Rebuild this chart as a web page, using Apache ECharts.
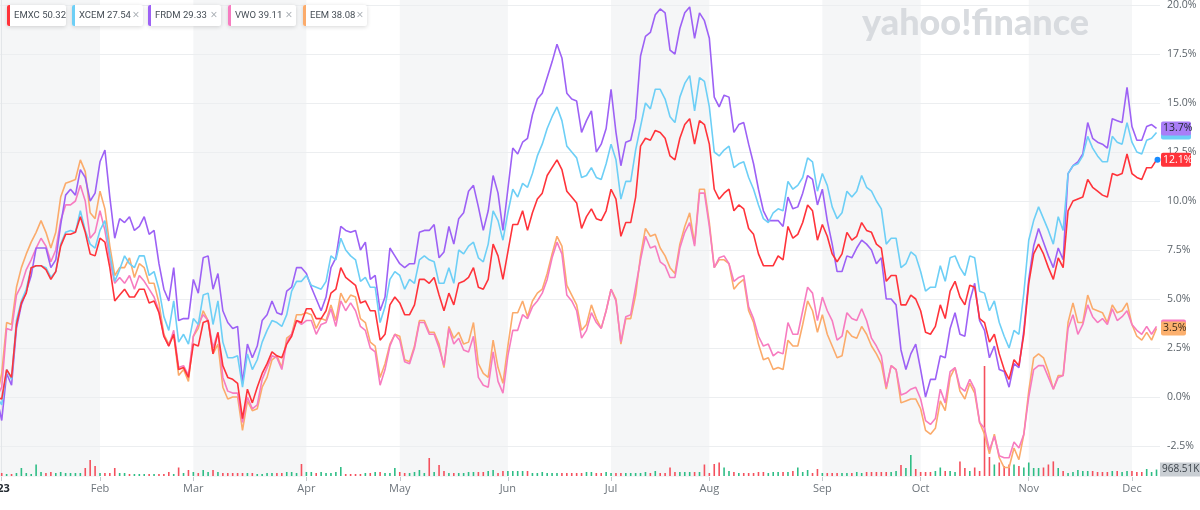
<!DOCTYPE html>
<html><head><meta charset="utf-8">
<script src="https://cdn.jsdelivr.net/npm/echarts@6/dist/echarts.min.js"></script>
<style>html,body{margin:0;padding:0;background:#fff}#c{width:1200px;height:510px}</style>
</head><body><div id="c"></div>
<script>
// trading-day index of each month's first session (index 0 = 3 Jan 2023)
const monthStart = [0,20,39,62,81,103,124,144,167,187,209,230];
const monthNames = ['2023','Feb','Mar','Apr','May','Jun','Jul','Aug','Sep','Oct','Nov','Dec'];

// % change, first value = base day (index -1), then one value per trading day
const frdm = [0,
-1.2,1.2,0.6,3.5,4.7,5.4,6.2,7.6,7.6,7.6,
6.6,7.0,8.8,10.3,10.6,10.3,11.6,11.2,10.0,10.4,
12.0,12.6,10.2,8.1,9.1,8.9,9.2,8.5,8.7,9.2,
8.3,8.5,6.8,5.5,4.9,6.6,3.9,4.0,4.0,6.0,
5.3,7.1,7.2,5.5,6.3,4.4,3.8,3.5,3.6,0.7,
2.7,2.0,2.6,3.9,4.2,4.9,4.3,4.2,5.4,5.6,
6.6,6.6,6.3,5.6,5.0,4.4,5.1,6.6,7.1,8.7,
8.5,8.4,8.5,7.5,7.9,6.0,6.2,4.4,5.1,7.6,
7.2,6.8,6.6,6.8,6.8,8.4,8.5,8.5,8.8,7.1,
7.4,8.7,7.8,9.1,9.4,10.5,10.8,9.7,8.5,9.5,
11.3,10.4,8.5,10.6,12.7,12.4,13.0,13.2,14.4,15.2,
15.5,16.3,17.1,18.0,17.3,15.5,15.2,15.1,13.5,14.1,
14.6,12.5,12.9,13.7,15.7,13.5,11.8,13.0,13.1,14.2,
17.4,18.4,18.6,19.5,19.8,19.6,17.7,17.5,18.8,19.6,
19.9,18.3,19.6,19.2,18.3,15.3,14.8,15.4,15.3,13.5,
13.9,14.0,12.9,11.9,10.6,9.5,9.0,9.0,9.0,8.7,
10.2,9.6,9.7,10.4,11.3,11.1,9.8,10.6,9.0,7.8,
6.4,6.4,7.2,7.1,7.6,8.0,7.8,7.5,6.8,7.1,
5.0,5.0,4.7,2.4,1.4,2.2,2.7,1.4,0.0,0.9,
0.9,2.1,2.0,3.5,4.3,3.2,3.1,4.9,5.8,3.9,
3.4,2.0,2.6,1.4,1.3,0.5,1.7,1.5,3.4,6.0,
7.7,8.6,7.9,7.2,6.6,7.6,7.0,11.4,11.8,12.0,
12.4,14.0,13.2,13.0,12.9,12.7,14.2,14.1,14.0,15.8,
13.8,13.1,13.1,13.8,13.9,13.7];

const xcem = [0,
-0.4,1.4,0.9,3.9,4.9,5.5,6.6,6.7,6.7,6.6,
6.1,6.4,7.8,8.4,8.5,8.4,9.5,8.5,7.8,7.6,
8.5,9.0,7.3,5.9,6.5,7.2,6.8,6.6,7.2,7.2,
6.2,6.4,5.5,4.1,3.4,4.9,2.8,3.2,2.7,4.0,
3.7,5.2,5.3,3.7,4.9,2.8,2.0,2.0,2.1,0.5,
2.2,1.4,1.9,2.8,3.4,3.9,3.8,3.6,4.2,5.4,
5.9,5.9,6.2,5.7,5.6,5.5,5.9,7.2,7.0,8.1,
7.5,7.2,7.0,5.9,6.1,5.6,5.6,3.8,4.6,6.0,
6.4,6.2,5.5,6.0,5.8,7.0,7.2,7.0,6.9,5.8,
5.8,6.6,5.8,7.5,7.3,7.7,7.9,7.1,6.9,7.8,
9.5,9.0,8.0,9.4,10.6,10.2,10.9,10.7,11.4,12.3,
12.9,13.7,14.3,14.8,14.1,12.8,12.5,12.2,11.2,11.3,
11.7,11.2,11.1,11.9,12.9,12.1,10.1,11.0,11.0,12.6,
13.8,15.0,14.7,15.7,15.7,15.2,14.3,14.0,15.3,16.0,
16.4,14.6,16.3,16.1,14.8,12.5,12.3,12.6,12.8,11.7,
11.9,12.0,11.2,10.6,9.8,9.1,8.9,9.4,9.6,9.5,
11.0,10.6,10.8,11.2,12.2,12.0,10.5,11.4,10.8,9.7,
9.1,9.4,10.5,10.2,10.5,11.3,10.7,10.5,10.0,9.6,
7.8,8.1,8.1,6.6,6.8,7.4,7.2,6.4,5.4,5.6,
5.6,6.7,5.9,7.1,7.2,6.6,6.2,7.2,7.1,5.4,
5.3,4.4,4.9,3.8,3.1,2.5,3.4,3.2,5.3,8.0,
9.0,9.7,9.1,8.5,7.8,9.2,8.5,11.4,11.8,11.9,
12.3,13.3,12.7,12.3,12.0,12.0,13.3,13.0,12.9,14.0,
13.0,12.5,12.4,13.1,13.2,13.5];

const emxc = [0,
-0.1,1.4,1.0,3.7,4.8,5.3,6.6,6.7,6.7,6.5,
6.0,6.4,7.7,8.3,8.3,8.4,9.2,8.4,7.3,7.2,
8.1,7.9,6.6,4.9,5.2,5.5,5.1,5.1,5.5,5.5,
4.8,4.9,4.3,3.1,2.6,3.2,1.4,1.5,1.0,2.7,
2.6,3.8,3.9,2.2,3.3,1.6,1.0,0.9,0.7,-1.1,
0.4,-0.3,0.5,1.2,1.7,2.3,2.1,2.0,2.7,3.1,
3.9,3.8,4.5,4.5,4.0,4.0,4.4,5.3,5.5,6.6,
6.1,5.9,5.7,4.8,4.9,4.4,4.4,2.9,3.2,4.7,
5.1,4.8,4.2,4.2,4.7,6.0,6.0,5.8,6.1,5.2,
4.4,5.3,4.7,5.8,5.9,6.1,6.6,5.6,5.5,6.0,
7.8,7.2,6.0,7.4,8.8,8.8,9.5,8.5,9.4,10.1,
10.4,11.3,11.7,12.1,11.6,10.5,10.2,9.9,8.6,9.2,
9.6,9.1,9.0,9.5,10.6,10.1,8.2,8.9,8.9,10.2,
12.8,13.2,13.1,13.6,13.5,13.2,12.3,12.1,13.2,13.9,
14.2,12.9,14.1,13.9,12.9,10.6,10.1,10.4,10.6,9.5,
9.8,9.6,8.6,8.3,7.3,6.7,6.7,6.7,7.2,7.0,
8.7,8.1,8.3,8.9,9.8,9.5,8.0,8.8,8.2,7.3,
6.9,7.3,8.4,8.0,8.2,8.9,8.5,8.4,7.8,7.6,
5.9,6.2,6.2,4.7,4.7,5.2,5.0,4.4,3.3,3.2,
3.6,4.7,4.0,5.4,5.9,5.1,4.7,5.7,5.6,4.0,
3.8,2.8,3.2,2.2,1.4,0.9,1.9,1.6,3.2,5.8,
7.3,7.8,7.3,6.6,6.0,7.1,6.6,9.5,10.0,10.1,
10.2,11.1,10.7,10.5,10.3,10.2,11.4,11.3,11.4,12.4,
11.4,11.2,11.1,11.7,11.7,12.1];

const vwo = [0,
0.5,3.5,3.4,5.2,5.7,6.5,7.0,7.6,8.1,7.7,
6.9,7.5,9.0,9.8,9.8,10.0,10.8,10.0,8.1,8.4,
9.5,8.5,7.0,5.8,6.1,5.8,6.2,5.5,6.2,5.9,
5.5,5.1,4.4,3.1,2.6,3.4,1.5,1.6,1.1,3.1,
3.7,4.2,3.9,2.5,3.3,1.0,0.3,0.2,0.2,-1.3,
0.0,-0.6,-0.4,0.9,1.5,2.1,2.0,1.4,2.8,3.2,
3.9,3.7,3.9,3.9,3.2,3.7,3.8,4.5,3.6,4.9,
4.4,4.8,4.4,3.6,3.4,2.5,2.3,0.6,1.4,2.6,
3.2,2.9,1.8,1.7,2.5,3.8,3.8,3.2,3.2,2.5,
1.6,3.5,2.7,3.0,2.4,2.3,3.1,1.0,0.6,0.5,
2.3,0.8,0.2,2.1,3.4,3.4,4.2,4.0,4.6,4.9,
5.3,6.0,7.1,7.9,7.3,5.2,4.9,4.4,3.0,3.4,
4.3,3.8,3.5,4.4,5.5,4.9,2.8,4.1,4.2,5.6,
7.0,8.2,7.6,7.7,6.9,6.7,6.1,6.1,7.6,8.4,
8.9,7.7,10.4,10.4,8.7,6.6,7.1,7.2,6.8,5.9,
6.1,6.2,4.6,4.0,3.1,2.6,2.7,2.1,2.3,2.2,
3.8,3.2,3.2,4.4,5.6,5.3,3.9,5.1,4.4,3.9,
2.9,3.1,4.3,4.0,3.9,4.5,3.9,3.0,2.6,2.1,
0.5,1.6,1.4,0.1,0.2,0.4,0.5,-0.1,-1.2,-1.4,
-1.1,0.4,-0.3,1.3,1.5,0.5,0.3,0.9,0.4,-1.3,
-1.6,-2.7,-2.0,-3.0,-3.1,-3.1,-2.3,-2.6,-1.9,0.0,
1.4,1.6,1.6,1.0,0.4,1.0,1.1,3.5,4.2,3.2,
3.7,4.7,4.1,3.8,4.0,3.7,4.5,3.9,4.1,4.4,
3.7,3.4,3.2,3.6,3.2,3.6];

const eem = [0,
1.2,3.8,3.7,5.6,6.6,7.3,7.9,8.4,9.0,8.4,
7.6,8.4,10.2,10.9,11.0,11.1,12.1,11.5,9.4,9.1,
10.5,9.6,7.7,6.2,6.6,6.6,7.1,6.1,6.8,6.6,
5.8,5.8,4.8,3.2,2.7,3.2,1.1,1.4,0.8,3.1,
3.5,4.4,3.9,2.2,2.7,0.5,-0.1,0.0,0.0,-1.7,
-0.2,-0.7,-0.6,0.5,1.0,1.9,2.1,1.5,3.0,3.2,
4.2,4.2,4.3,4.2,3.5,4.0,3.9,4.7,3.9,5.3,
4.8,5.2,5.1,4.0,3.8,2.8,2.6,1.0,1.7,2.7,
3.2,3.1,1.9,1.8,2.6,3.9,3.9,3.3,3.3,2.7,
1.5,3.6,3.0,3.3,2.7,2.8,3.8,1.7,1.2,1.0,
2.9,1.5,0.7,2.6,4.3,4.3,4.9,4.1,4.9,5.3,
5.5,6.3,7.3,8.2,7.7,5.7,5.2,4.7,3.4,3.7,
4.7,4.0,3.5,4.4,5.5,5.0,2.7,4.0,4.0,5.2,
7.2,8.6,8.2,8.3,7.6,7.2,6.6,6.3,7.8,8.7,
9.4,7.8,10.6,10.6,8.9,6.6,7.0,7.0,6.8,5.5,
5.8,6.0,4.4,3.8,2.7,1.9,2.0,1.4,1.5,1.4,
2.9,2.6,2.6,3.7,4.9,4.4,3.3,4.2,3.2,2.6,
2.0,2.1,3.4,3.1,3.0,3.6,3.2,2.6,2.2,1.7,
0.4,1.6,1.4,-0.3,-0.2,-0.1,-0.1,-0.6,-1.7,-1.9,
-1.6,-0.2,-0.7,1.0,1.5,0.3,-0.1,0.7,0.2,-1.3,
-1.9,-2.9,-1.9,-3.1,-3.6,-3.6,-2.6,-3.2,-1.9,0.3,
2.0,2.2,2.0,1.3,0.4,1.1,1.1,3.8,4.8,3.8,
3.8,5.2,4.5,4.4,4.3,3.8,4.7,4.3,4.4,4.8,
3.7,3.1,2.9,3.3,2.9,3.5];

// EMXC daily volume, thousands of shares (index 0 = 3 Jan)
const volume = [
450,300,300,450,1200,450,300,1725,600,450,
600,450,600,450,450,450,450,1200,2400,1500,
450,450,450,1200,450,450,300,300,300,300,
300,300,300,300,600,300,1275,450,900,600,
450,900,600,900,600,450,450,450,450,450,
450,450,300,300,450,450,450,450,600,600,
450,1800,600,600,450,600,450,450,600,1350,
300,300,300,300,450,450,600,600,450,450,
1200,600,450,450,600,900,450,2700,600,1650,
750,450,450,450,450,600,600,600,600,750,
900,450,750,750,750,750,750,750,450,450,
600,450,450,450,450,450,450,450,450,600,
600,450,450,600,450,450,450,450,450,450,
450,600,450,750,450,450,1275,600,600,600,
600,600,600,1725,450,1800,2025,1275,750,600,
450,450,450,450,600,600,450,600,600,600,
600,750,1275,600,900,450,1050,450,450,450,
450,450,450,450,600,450,600,600,600,600,
600,600,750,1650,1200,3150,1050,600,600,600,
750,1275,750,750,600,2190,1200,750,1275,750,
16500,2850,1725,2025,1500,1725,1725,1500,1275,2025,
1200,1200,1275,1725,2190,1200,750,450,600,900,
750,750,750,600,600,600,750,750,600,750,
750,600,600,1050,600,968.51];

const legendNames = ['EMXC','XCEM','FRDM','VWO','EEM'];
const legendPrices = ['50.32','27.54','29.33','39.11','38.08'];

const COL = {EMXC:'#ff333a', XCEM:'#6dcff6', FRDM:'#9d61f5', VWO:'#f77cc0', EEM:'#fbab6b'};
const X_MIN = -0.35, X_MAX = 235.71;
const FONT = 'Open Sans';

const chart = echarts.init(document.getElementById('c'));

const bands = [];
for (let k = 0; k < monthStart.length; k += 2) {
  bands.push([{xAxis: k === 0 ? X_MIN : monthStart[k]}, {xAxis: k + 1 < monthStart.length ? monthStart[k + 1] : X_MAX}]);
}

function lineSeries(name, arr) {
  return {
    name, type: 'line', xAxisIndex: 1, yAxisIndex: 1, clip: false,
    data: arr.map((v, i) => [i - 1, v]),
    showSymbol: false, symbol: 'none', z: 4,
    lineStyle: {color: COL[name], width: 1.6},
    itemStyle: {color: COL[name]}
  };
}

const gridBase = {left: 0, width: 1160, containLabel: false, outerBoundsMode: 'none'};

chart.setOption({
  animation: false,
  grid: [
    Object.assign({top: 0, height: 477}, gridBase),
    Object.assign({top: 5, height: 441}, gridBase),
    Object.assign({top: 326, height: 150}, gridBase)
  ],
  xAxis: [
    {gridIndex: 0, type: 'value', min: X_MIN, max: X_MAX,
     axisLine: {show: false}, splitLine: {show: false},
     axisTick: {show: true, customValues: monthStart, length: 4, lineStyle: {color: '#c4c9ce'}},
     axisLabel: {customValues: monthStart, margin: 6, fontSize: 11, fontFamily: FONT, color: '#6e757c',
       formatter: function (v) { const k = monthStart.indexOf(v); return k === 0 ? '{yr|' + monthNames[0] + '}' : (monthNames[k] || ''); },
       rich: {yr: {fontWeight: 'bold', color: '#232a31', fontSize: 11, fontFamily: FONT, padding: [0, 9, 0, 0]}}}},
    {gridIndex: 1, type: 'value', min: X_MIN, max: X_MAX, show: false},
    {gridIndex: 2, type: 'value', min: X_MIN, max: X_MAX, show: false}
  ],
  yAxis: [
    {gridIndex: 0, type: 'value', min: 0, max: 1, position: 'right',
     axisLine: {show: true, lineStyle: {color: '#e3e6e9'}}, axisTick: {show: false},
     axisLabel: {show: false}, splitLine: {show: false}},
    {gridIndex: 1, type: 'value', min: -2.5, max: 20, interval: 2.5, position: 'right',
     axisLine: {show: false}, axisTick: {show: false},
     axisLabel: {margin: 7, fontSize: 10.5, fontFamily: FONT, color: '#5b636a', formatter: v => v.toFixed(1) + '%'},
     splitLine: {lineStyle: {color: '#eceef0', width: 1}}},
    {gridIndex: 2, type: 'value', min: 0, max: 22500, show: false}
  ],
  series: [
    {type: 'line', xAxisIndex: 0, yAxisIndex: 0, data: [], silent: true, z: -5, zlevel: 0,
     markArea: {silent: true, z: -5, itemStyle: {color: '#f5f6f7'}, data: bands}},
    {name: 'Volume', type: 'bar', xAxisIndex: 2, yAxisIndex: 2, barWidth: 1.6, z: 2,
     data: volume.map((v, i) => [i, v]),
     itemStyle: {color: p => (emxc[p.dataIndex + 1] >= emxc[p.dataIndex] ? '#2ebd85' : '#f4505d')}},
    lineSeries('EEM', eem),
    lineSeries('VWO', vwo),
    lineSeries('FRDM', frdm),
    lineSeries('XCEM', xcem),
    lineSeries('EMXC', emxc)
  ]
});

// ---- overlay: price tags, legend chips, watermark ----
const last = a => a[a.length - 1];
const lastIdx = frdm.length - 2;
function yOf(v) { return chart.convertToPixel({gridIndex: 1}, [lastIdx, v])[1]; }
function tag(v, fill, textFill, w, withText, z) {
  const y = yOf(v);
  const ch = [{type: 'rect', z: z, shape: {x: 1161, y: y - 7, width: w, height: 14, r: 2}, style: {fill}}];
  if (withText) ch.push({type: 'text', z: z + 1, style: {text: v.toFixed(1) + '%', x: 1163, y: y, verticalAlign: 'middle',
    fontSize: 10.5, fontFamily: FONT, fill: textFill}});
  return {type: 'group', children: ch};
}
const g = [];
g.push(tag(last(xcem), COL.XCEM, '#232a31', 30, false, 20));
g.push(tag(last(frdm), '#a97ef7', '#232a31', 30, true, 22));
g.push(tag(last(vwo), COL.VWO, '#232a31', 25, false, 20));
g.push(tag(last(eem), '#fcb06e', '#3a2a1a', 25, true, 22));
g.push(tag(last(emxc), COL.EMXC, '#ffffff', 30, true, 24));

const ep = chart.convertToPixel({gridIndex: 1}, [lastIdx, last(emxc)]);
g.push({type: 'circle', z: 26, shape: {cx: ep[0] + 1, cy: ep[1], r: 3}, style: {fill: '#1a8cff'}});

const vy = chart.convertToPixel({gridIndex: 2}, [volume.length - 1, last(volume)])[1];
g.push({type: 'group', children: [
  {type: 'rect', z: 20, shape: {x: 1160, y: vy - 7, width: 40, height: 14}, style: {fill: '#c9ced3'}},
  {type: 'text', z: 21, style: {text: last(volume).toFixed(2) + 'K', x: 1162, y: vy, verticalAlign: 'middle', fontSize: 10, fontFamily: FONT, fill: '#3d444b'}}
]});

const chipX = [[7, 66], [72, 143], [148, 221], [228, 296], [303, 367]];
legendNames.forEach((n, i) => {
  const [x0, x1] = chipX[i];
  const ch = [
    {type: 'rect', z: 30, shape: {x: x0, y: 5, width: x1 - x0, height: 21, r: 2},
     style: {fill: '#ffffff', shadowBlur: 4, shadowColor: 'rgba(0,0,0,0.16)', shadowOffsetY: 1}},
    {type: 'rect', z: 31, shape: {x: x0, y: 5, width: 3, height: 21, r: [2, 0, 0, 2]}, style: {fill: COL[n]}},
    {type: 'text', z: 32, style: {text: n + ' ' + legendPrices[i], x: x0 + 7, y: 16, verticalAlign: 'middle',
      fontSize: 9.5, fontFamily: 'Roboto', fill: '#464e56'}}
  ];
  if (i > 0) ch.push({type: 'text', z: 32, style: {text: '×', x: x1 - 7, y: 15.5, align: 'center', verticalAlign: 'middle',
    fontSize: 12, fontFamily: FONT, fill: '#a2a8ae'}});
  g.push({type: 'group', children: ch});
});

g.push({type: 'text', z: 10, style: {text: 'yahoo!finance', x: 862, y: 23, verticalAlign: 'middle',
  fontSize: 36, fontWeight: 900, fontFamily: 'Lato', fill: '#d8dbdf'}});

chart.setOption({graphic: g});
</script></body></html>
